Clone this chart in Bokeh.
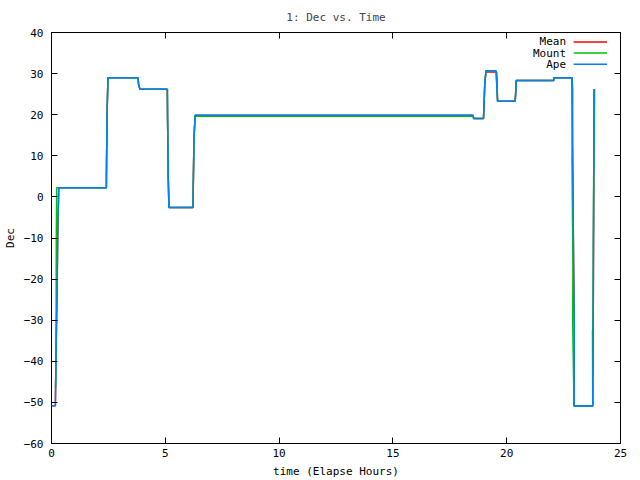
from bokeh.plotting import figure
from bokeh.models import Range1d, LinearAxis, ColumnDataSource
from bokeh.embed import file_html
from bokeh.resources import INLINE
from bokeh.core.properties import value

# ---- data (elapsed hours, declination in degrees) ----
mean_t = [0.00, 0.17, 0.20, 0.24, 0.28, 0.32, 2.41, 2.42, 2.45, 2.48, 3.80, 3.83, 3.89,
          5.09, 5.10, 5.13, 5.16, 6.22, 6.23, 6.26, 6.31, 18.52, 18.55, 18.98, 19.00,
          19.04, 19.09, 19.56, 19.57, 19.60, 20.37, 20.39, 20.42, 22.06, 22.08, 22.87,
          22.88, 22.94, 22.97, 22.96, 23.78, 23.80, 23.84]
mean_dec = [-50.8, -50.8, -37.6, -24.8, -7.0, 2.2, 2.2, 8.9, 22.2, 29.0, 29.0, 27.2, 26.2,
            26.2, 19.0, 4.6, -2.6, -2.6, 3.0, 14.1, 19.75, 19.75, 19.1, 19.1, 21.8,
            27.8, 30.4, 30.4, 28.8, 23.3, 23.3, 24.8, 28.3, 28.3, 29.0, 29.0,
            20.7, -16.5, -30.9, -50.9, -50.9, -32.8, 26.2]

mount_t = [0.18, 0.20, 0.21, 0.23, 0.32, 2.41, 2.42, 2.45, 2.48, 3.80, 3.83, 3.89,
           5.09, 5.10, 5.13, 5.16, 6.22, 6.23, 6.26, 6.31, 18.52, 18.55, 18.98, 19.00,
           19.04, 19.09, 19.53, 19.55, 19.60, 20.37, 20.39, 20.42, 22.06, 22.08, 22.87,
           22.90, 22.90, 22.87, 22.91, 22.90, 22.96, 23.78, 23.77, 23.79, 23.82, 23.83,
           23.86, 23.86]
mount_dec = [-46.5, -37.6, -11.0, 2.2, 2.2, 2.2, 8.9, 22.2, 29.0, 29.0, 27.2, 26.2,
             26.2, 19.0, 4.6, -2.6, -2.6, 3.0, 14.1, 19.6, 19.6, 19.1, 19.1, 21.8,
             27.8, 30.7, 30.7, 28.8, 23.3, 23.3, 24.8, 28.3, 28.3, 29.0, 29.0,
             26.2, 20.7, 9.1, -16.5, -30.9, -50.9, -50.9, -32.8, -31.0, 4.7, 7.1,
             24.0, 26.2]

ape_t = [0.00, 0.17, 0.20, 0.24, 0.28, 0.32, 2.41, 2.42, 2.45, 2.48, 3.80, 3.83, 3.89,
         5.09, 5.10, 5.13, 5.16, 6.22, 6.23, 6.26, 6.31, 18.52, 18.55, 18.98, 19.00,
         19.04, 19.09, 19.53, 19.55, 19.60, 20.37, 20.39, 20.42, 22.06, 22.08, 22.87,
         22.88, 22.94, 22.97, 22.96, 23.78, 23.80, 23.84]
ape_dec = [-50.8, -50.8, -37.6, -24.8, -7.0, 2.2, 2.2, 8.9, 22.2, 29.0, 29.0, 27.2, 26.2,
           26.2, 19.0, 4.6, -2.6, -2.6, 3.0, 14.1, 19.9, 19.9, 19.1, 19.1, 21.8,
           27.8, 30.7, 30.7, 28.8, 23.3, 23.3, 24.8, 28.3, 28.3, 29.0, 29.0,
           20.7, -16.5, -30.9, -50.9, -50.9, -32.8, 26.2]

series_names = ["Mean", "Mount", "Ape"]
series_colors = ["#ff0000", "#00c000", "#0080ff"]
x_ticks = [0, 5, 10, 15, 20, 25]
y_ticks = [-60, -50, -40, -30, -20, -10, 0, 10, 20, 30, 40]

# legend placement (gnuplot style: text right-aligned, sample to the right)
legend_text_x = 22.61
legend_sample_x0 = 22.94
legend_sample_x1 = 24.41
legend_y = [37.7, 35.0, 32.3]

FONT = "DejaVu Sans Mono"
FS = "11px"

p = figure(width=640, height=480, output_backend="svg", toolbar_location=None,
           x_range=Range1d(0, 25), y_range=Range1d(-60, 40),
           min_border_left=44, min_border_right=20, min_border_top=0,
           min_border_bottom=0)
p.background_fill_color = "white"
p.border_fill_color = "white"
p.outline_line_color = "black"
p.grid.visible = False

p.title.text = "1: Dec vs. Time"
p.title.align = "center"
p.title.text_font = FONT
p.title.text_font_size = FS
p.title.text_font_style = "normal"
p.title.standoff = 17

p.xaxis.axis_label = "time (Elapse Hours)"
p.yaxis.axis_label = "Dec"
p.xaxis.ticker = x_ticks
p.yaxis.ticker = y_ticks

right_ax = LinearAxis()
top_ax = LinearAxis()
right_ax.ticker = y_ticks
top_ax.ticker = x_ticks
right_ax.major_label_overrides = {v: "" for v in y_ticks}
top_ax.major_label_overrides = {v: "" for v in x_ticks}
p.add_layout(right_ax, "right")
p.add_layout(top_ax, "above")

for ax in p.axis:
    ax.axis_line_color = "black"
    ax.major_tick_line_color = "black"
    ax.major_tick_in = 6
    ax.major_tick_out = 0
    ax.minor_tick_line_color = None
    ax.major_label_text_font = FONT
    ax.major_label_text_font_size = FS
    ax.major_label_text_color = "black"
    ax.major_label_text_line_height = 1.0
    ax.axis_label_text_font = FONT
    ax.axis_label_text_font_size = FS
    ax.axis_label_text_font_style = "normal"
    ax.axis_label_text_color = "black"
    ax.axis_label_text_line_height = 1.0

for ax in (right_ax, top_ax):
    ax.major_label_text_color = None
    ax.major_label_standoff = 0

p.xaxis[0].major_label_standoff = 1
p.xaxis[0].axis_label_standoff = 0
p.yaxis[0].major_label_standoff = 8
p.yaxis[0].axis_label_standoff = 4

data = [(mean_t, mean_dec), (mount_t, mount_dec), (ape_t, ape_dec)]
for (t, d), c in zip(data, series_colors):
    p.line(t, d, line_color=c, line_width=1.5)

leg = ColumnDataSource(dict(x=[legend_text_x] * 3, x0=[legend_sample_x0] * 3,
                            x1=[legend_sample_x1] * 3, y=legend_y,
                            text=series_names, color=series_colors))
p.text(x="x", y="y", text="text", source=leg, text_align="right",
       text_baseline="middle", text_font=value(FONT), text_font_size=FS,
       text_color="black")
p.segment(x0="x0", y0="y", x1="x1", y1="y", source=leg, line_color="color",
          line_width=1.5)

open("out.html", "w").write(file_html(p, INLINE))
